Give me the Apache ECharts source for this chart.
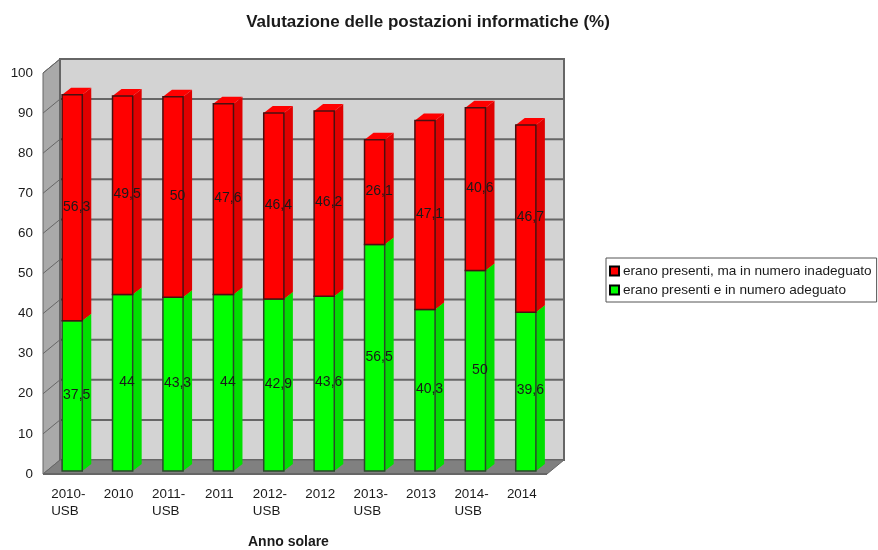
<!DOCTYPE html>
<html>
<head>
<meta charset="utf-8">
<title>Valutazione delle postazioni informatiche</title>
<script src="https://cdn.jsdelivr.net/npm/echarts@6/dist/echarts.min.js"></script>
<style>
html, body { margin: 0; padding: 0; background: #fff; }
#chart { width: 878px; height: 550px; }
</style>
</head>
<body>
<div id="chart"></div>
<script>
var categories = ['2010-USB', '2010', '2011-USB', '2011', '2012-USB', '2012', '2013-USB', '2013', '2014-USB', '2014'];
var adeguato = [37.5, 44, 43.3, 44, 42.9, 43.6, 56.5, 40.3, 50, 39.6];
var inadeguato = [56.3, 49.5, 50, 47.6, 46.4, 46.2, 26.1, 47.1, 40.6, 46.7];
var yTicks = [0, 10, 20, 30, 40, 50, 60, 70, 80, 90, 100];
var nameAdeguato = 'erano presenti e in numero adeguato';
var nameInadeguato = 'erano presenti, ma in numero inadeguato';

var FONT = '"Liberation Sans", Arial, sans-serif';
var TEXT = '#1a1a1a';
var EDGE = '#666666';
// profondita' della scena 3d finta
var DEPTH_X = 17, DEPTH_Y = -14;
var BAR_DX = 4, BAR_DY = -3, SIDE_X = 9, SIDE_Y = -7;

function poly(points, fill, stroke, width) {
    return {
        type: 'polygon',
        shape: { points: points },
        style: { fill: fill, stroke: stroke || null, lineWidth: width || 0 }
    };
}

function line(x1, y1, x2, y2, width) {
    return {
        type: 'line',
        shape: { x1: x1, y1: y1, x2: x2, y2: y2 },
        style: { stroke: EDGE, lineWidth: width || 2 }
    };
}

function renderWall(params, api) {
    var cs = params.coordSys;
    var left = cs.x, right = cs.x + cs.width, top = cs.y, bottom = cs.y + cs.height;
    var y = api.coord([0, api.value(1)])[1];
    var children = [];
    if (params.dataIndex === 0) {
        // sinistra, fondo, pavimento
        children.push(poly([[left, top], [left + DEPTH_X, top + DEPTH_Y], [left + DEPTH_X, bottom + DEPTH_Y], [left, bottom]], '#a9a9a9', EDGE, 1));
        children.push(poly([[left + DEPTH_X, top + DEPTH_Y], [right + DEPTH_X, top + DEPTH_Y], [right + DEPTH_X, bottom + DEPTH_Y], [left + DEPTH_X, bottom + DEPTH_Y]], '#d3d3d3', EDGE, 2));
        children.push(poly([[left, bottom], [left + DEPTH_X, bottom + DEPTH_Y], [right + DEPTH_X, bottom + DEPTH_Y], [right, bottom]], '#808080', EDGE, 1));
        children.push(line(left, bottom, right, bottom));
    }
    if (api.value(1) > 0) {
        children.push(line(left, y, left + DEPTH_X, y + DEPTH_Y, 1));
        children.push(line(left + DEPTH_X, y + DEPTH_Y, right + DEPTH_X, y + DEPTH_Y));
    }
    return { type: 'group', children: children };
}

function makeRenderBar(front, side, dark) {
    return function(params, api) {
        var i = api.value(0);
        var from = api.coord([i, api.value(1)]);
        var to = api.coord([i, api.value(2)]);
        var w = api.size([1, 0])[0] * 0.4;
        var x0 = from[0] + BAR_DX - w / 2, x1 = x0 + w;
        var y0 = from[1] + BAR_DY, y1 = to[1] + BAR_DY;
        var val = api.value(2) - api.value(1);
        return {
            type: 'group',
            children: [
                poly([[x1, y0], [x1 + SIDE_X, y0 + SIDE_Y], [x1 + SIDE_X, y1 + SIDE_Y], [x1, y1]], side),
                poly([[x0, y1], [x0 + SIDE_X, y1 + SIDE_Y], [x1 + SIDE_X, y1 + SIDE_Y], [x1, y1]], front),
                poly([[x0, y0], [x1, y0], [x1, y1], [x0, y1]], front, dark, 1.5),
                {
                    type: 'text',
                    z2: 10,
                    style: {
                        x: x0 + (w + SIDE_X) / 2,
                        y: (y0 + y1) / 2 - 1,
                        text: String(Math.round(val * 10) / 10).replace('.', ','),
                        fill: TEXT,
                        font: '14px ' + FONT,
                        align: 'center',
                        verticalAlign: 'middle'
                    }
                }
            ]
        };
    };
}

var greenData = [], redData = [];
categories.forEach(function(c, i) {
    greenData.push([i, 0, adeguato[i]]);
    redData.push([i, adeguato[i], adeguato[i] + inadeguato[i]]);
});

var chart = echarts.init(document.getElementById('chart'), null, { renderer: 'canvas' });
chart.setOption({
    animation: false,
    backgroundColor: '#ffffff',
    title: [
        {
            text: 'Valutazione delle postazioni informatiche (%)',
            left: 423, top: 9, textAlign: 'center',
            textStyle: { fontFamily: FONT, fontSize: 17, fontWeight: 'bold', color: TEXT }
        },
        {
            text: 'Anno solare',
            left: 243, top: 530,
            textStyle: { fontFamily: FONT, fontSize: 14, fontWeight: 'bold', color: TEXT }
        }
    ],
    legend: {
        left: 606, top: 258,
        orient: 'vertical',
        data: [nameInadeguato, nameAdeguato],
        icon: 'rect',
        itemWidth: 9, itemHeight: 9, itemGap: 5,
        padding: [6, 5, 5, 3],
        borderColor: '#555555', borderWidth: 1,
        backgroundColor: '#ffffff',
        selectedMode: false,
        textStyle: { fontFamily: FONT, fontSize: 13.6, color: TEXT, padding: [0, 0, 0, -1] }
    },
    grid: { left: 43, top: 73, width: 504, height: 401, containLabel: false },
    xAxis: {
        type: 'category',
        data: categories,
        axisLine: { show: false },
        axisTick: { show: false },
        axisLabel: {
            interval: 0,
            margin: 12,
            fontFamily: FONT,
            fontSize: 13.4,
            color: TEXT,
            lineHeight: 17,
            formatter: function(v) {
                var p = v.split('-');
                if (p.length < 2) return v;
                return '{a|' + p[0] + '-}\n{a|' + p[1] + '}';
            },
            rich: {
                a: { width: 34, align: 'left', fontFamily: FONT, fontSize: 13.4, color: TEXT, lineHeight: 17 }
            }
        }
    },
    yAxis: {
        type: 'value',
        min: 0, max: 100, interval: 10,
        axisLine: { show: false },
        axisTick: { show: false },
        splitLine: { show: false },
        axisLabel: { margin: 10, fontFamily: FONT, fontSize: 13.4, color: TEXT }
    },
    series: [
        {
            type: 'custom',
            name: 'pareti',
            silent: true,
            clip: false,
            renderItem: renderWall,
            encode: { x: 0, y: 1 },
            data: yTicks.map(function(t) { return [0, t]; })
        },
        {
            type: 'custom',
            name: nameAdeguato,
            clip: false,
            itemStyle: { color: '#00ff00', borderColor: '#000000', borderWidth: 1 },
            renderItem: makeRenderBar('#00ff00', '#00e000', '#2a4a2a'),
            encode: { x: 0, y: [1, 2] },
            data: greenData
        },
        {
            type: 'custom',
            name: nameInadeguato,
            clip: false,
            itemStyle: { color: '#ff0000', borderColor: '#000000', borderWidth: 1 },
            renderItem: makeRenderBar('#ff0000', '#e00000', '#4a1010'),
            encode: { x: 0, y: [1, 2] },
            data: redData
        }
    ]
});
</script>
</body>
</html>
